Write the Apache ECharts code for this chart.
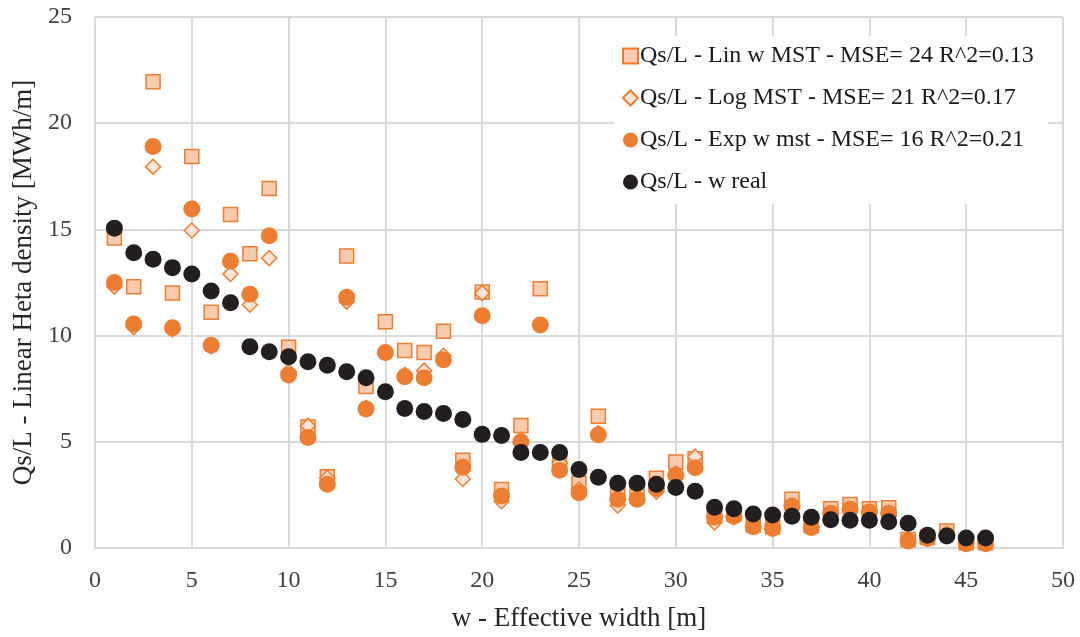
<!DOCTYPE html>
<html>
<head>
<meta charset="utf-8">
<script src="https://cdn.jsdelivr.net/npm/echarts@6/dist/echarts.min.js"></script>
<style>
  html, body { margin: 0; padding: 0; background: #fff; }
  #chart { width: 1080px; height: 637px; }
</style>
</head>
<body>
<div id="chart"></div>
<script>
// effective width w [m]
const widths = [1, 2, 3, 4, 5, 6, 7, 8, 9, 10, 11, 12, 13, 14, 15, 16, 17, 18, 19, 20, 21, 22, 23,
  24, 25, 26, 27, 28, 29, 30, 31, 32, 33, 34, 35, 36, 37, 38, 39, 40, 41, 42, 43, 44, 45, 46];

const linMst = [14.6, 12.3, 21.95, 12.0, 18.43, 11.1, 15.7, 13.85, 16.93, 9.45, 5.7, 3.35, 13.75, 7.6, 10.65,
  9.3, 9.2, 10.2, 4.13, 12.05, 2.75, 5.77, 12.2, 4.15, 3.05, 6.2, 2.7, 2.7, 3.28, 4.05, 4.2,
  1.55, 1.6, 1.1, 1.0, 2.3, 1.05, 1.85, 2.05, 1.85, 1.9, 0.4, 0.5, 0.8, 0.25, 0.25];

const logMst = [12.3, 10.4, 17.95, 10.3, 14.95, 9.5, 12.9, 11.45, 13.65, 8.3, 5.75, 3.3, 11.6, 6.6, 9.2,
  8.15, 8.35, 9.05, 3.25, 12.0, 2.2, 5.1, 10.5, 4.0, 2.75, 5.4, 2.0, 2.3, 2.65, 3.5, 4.3,
  1.2, 1.45, 1.0, 0.9, 2.0, 1.0, 1.65, 1.85, 1.7, 1.65, 0.35, 0.45, 0.65, 0.2, 0.2];

const expMst = [12.5, 10.55, 18.9, 10.37, 15.96, 9.55, 13.5, 11.95, 14.7, 8.15, 5.2, 3.0, 11.8, 6.55, 9.2,
  8.06, 8.02, 8.86, 3.8, 10.93, 2.45, 5.0, 10.5, 3.66, 2.6, 5.33, 2.3, 2.3, 2.8, 3.42, 3.78,
  1.45, 1.5, 1.0, 0.93, 1.97, 0.96, 1.64, 1.83, 1.69, 1.64, 0.33, 0.45, 0.6, 0.2, 0.2];

const wReal = [15.06, 13.9, 13.6, 13.2, 12.9, 12.1, 11.55, 9.47, 9.24, 9.0, 8.77, 8.6, 8.3, 8.02, 7.36,
  6.57, 6.43, 6.33, 6.05, 5.35, 5.3, 4.5, 4.5, 4.5, 3.7, 3.33, 3.05, 3.05, 3.0, 2.85, 2.67,
  1.92, 1.85, 1.6, 1.55, 1.5, 1.45, 1.33, 1.31, 1.31, 1.24, 1.17, 0.6, 0.56, 0.47, 0.47];

const seriesNames = [
  'Qs/L - Lin w MST - MSE= 24 R^2=0.13',
  'Qs/L - Log MST - MSE= 21 R^2=0.17',
  'Qs/L - Exp w mst - MSE= 16 R^2=0.21',
  'Qs/L - w real'
];

function pairs(vals) {
  return widths.map((w, i) => [w, vals[i]]);
}

const font = 'Liberation Serif, Times New Roman, serif';

let chart = echarts.init(document.getElementById('chart'), null, { renderer: 'canvas' });

let option = {
  backgroundColor: '#fff',
  animation: false,
  textStyle: { fontFamily: font },
  grid: { left: 95, right: 17, top: 17, bottom: 87 },
  legend: {
    orient: 'vertical',
    left: 614,
    top: 36,
    itemGap: 18,
    itemWidth: 15,
    itemHeight: 15,
    padding: [8, 14, 10, 8],
    backgroundColor: '#fff',
    textStyle: { fontFamily: font, fontSize: 24, color: '#1a1a1a', padding: [0, 0, 0, -3] },
    data: seriesNames
  },
  xAxis: {
    type: 'value',
    min: 0, max: 50, interval: 5,
    name: 'w - Effective width [m]',
    nameLocation: 'middle',
    nameGap: 57,
    nameTextStyle: { fontFamily: font, fontSize: 27, color: '#262626' },
    axisLine: { lineStyle: { color: '#d9d9d9', width: 2 } },
    axisTick: { show: false },
    axisLabel: { fontFamily: font, fontSize: 24, color: '#404040', margin: 21 },
    splitLine: { lineStyle: { color: '#d9d9d9', width: 2 } }
  },
  yAxis: {
    type: 'value',
    min: 0, max: 25, interval: 5,
    name: 'Qs/L - Linear Heta density [MWh/m]',
    nameLocation: 'middle',
    nameGap: 55,
    nameTextStyle: { fontFamily: font, fontSize: 27, color: '#262626' },
    axisLine: { show: true, lineStyle: { color: '#d9d9d9', width: 2 } },
    axisTick: { show: false },
    axisLabel: { fontFamily: font, fontSize: 24, color: '#404040', margin: 23 },
    splitLine: { lineStyle: { color: '#d9d9d9', width: 2 } }
  },
  series: [
    {
      name: seriesNames[0],
      type: 'scatter',
      symbol: 'rect',
      symbolSize: 14,
      itemStyle: { color: '#f8cbad', borderColor: '#ed7d31', borderWidth: 1.5, opacity: 1 },
      data: pairs(linMst)
    },
    {
      name: seriesNames[1],
      type: 'scatter',
      symbol: 'diamond',
      symbolSize: 15,
      itemStyle: { color: '#fbe5d6', borderColor: '#ed7d31', borderWidth: 1.5, opacity: 1 },
      data: pairs(logMst)
    },
    {
      name: seriesNames[2],
      type: 'scatter',
      symbol: 'circle',
      symbolSize: 17,
      itemStyle: { color: '#ed7d31', opacity: 1 },
      data: pairs(expMst)
    },
    {
      name: seriesNames[3],
      type: 'scatter',
      symbol: 'circle',
      symbolSize: 17,
      itemStyle: { color: '#231f20', opacity: 1 },
      data: pairs(wReal)
    }
  ]
};

chart.setOption(option);

window.addEventListener('resize', chart.resize);
</script>
</body>
</html>
